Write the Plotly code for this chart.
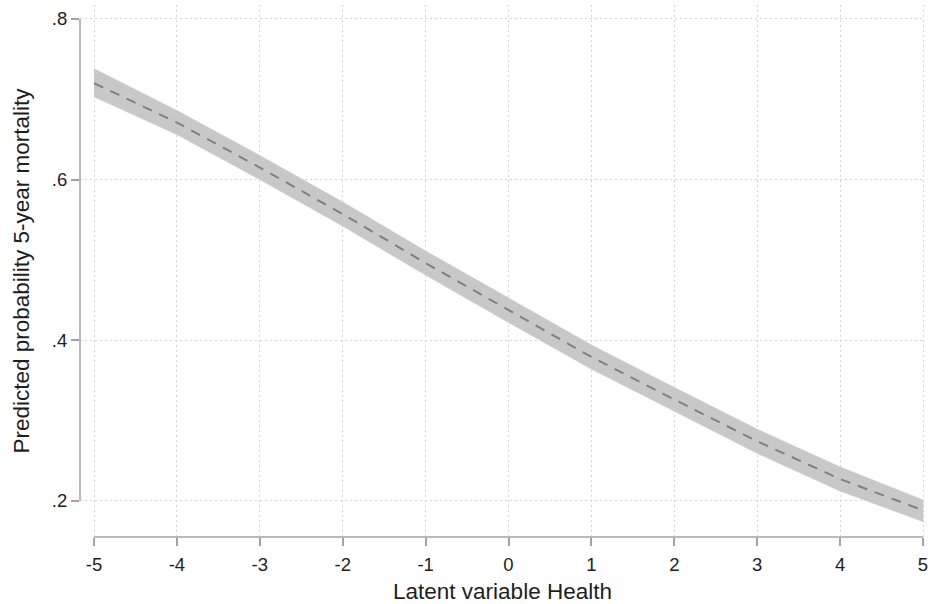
import plotly.graph_objects as go

# Data
health = [-5, -4, -3, -2, -1, 0, 1, 2, 3, 4, 5]
pred_mean = [0.720, 0.671, 0.615, 0.557, 0.496, 0.437, 0.379, 0.326, 0.274, 0.227, 0.188]
ci_upper = [0.738, 0.686, 0.630, 0.572, 0.511, 0.452, 0.394, 0.341, 0.289, 0.242, 0.201]
ci_lower = [0.703, 0.656, 0.600, 0.542, 0.481, 0.422, 0.364, 0.311, 0.259, 0.212, 0.174]

y_ticks = [0.2, 0.4, 0.6, 0.8]
y_ticklabels = [".2", ".4", ".6", ".8"]
x_ticks = [-5, -4, -3, -2, -1, 0, 1, 2, 3, 4, 5]
x_ticklabels = ["-5", "-4", "-3", "-2", "-1", "0", "1", "2", "3", "4", "5"]

FONT = "Liberation Sans, Arial, sans-serif"
AXIS_COLOR = "#a3a3a3"
GRID_COLOR = "#d4d4d4"
TEXT_COLOR = "#1e1e1e"

fig = go.Figure()

# Confidence band
fig.add_trace(go.Scatter(
    x=health + health[::-1],
    y=ci_upper + ci_lower[::-1],
    fill="toself",
    fillcolor="#c8c8c8",
    line=dict(color="#c0c0c0", width=0.5),
    mode="lines",
    hoverinfo="skip",
    showlegend=False,
))

# Predicted probability line
fig.add_trace(go.Scatter(
    x=health,
    y=pred_mean,
    mode="lines",
    line=dict(color="#808080", width=2, dash="10px,8px"),
    showlegend=False,
))

# Axis lines (Stata style: spanning min to max tick, offset)
fig.add_shape(type="line", xref="paper", yref="y", x0=0, x1=0,
              y0=min(y_ticks), y1=max(y_ticks),
              line=dict(color=AXIS_COLOR, width=1.5))
fig.add_shape(type="line", xref="x", yref="paper", x0=min(x_ticks), x1=max(x_ticks),
              y0=0, y1=0, line=dict(color=AXIS_COLOR, width=1.5))

common = dict(
    ticks="outside",
    ticklen=8,
    tickwidth=1.5,
    tickcolor=AXIS_COLOR,
    showline=False,
    zeroline=False,
    showgrid=True,
    gridcolor=GRID_COLOR,
    gridwidth=1,
    griddash="2px,3px",
    automargin=False,
    ticklabeloverflow="allow",
    tickfont=dict(family=FONT, size=18.5, color=TEXT_COLOR),
)

fig.update_xaxes(
    range=[-5.169, 5.024],
    tickvals=x_ticks,
    ticktext=x_ticklabels,
    ticklabelstandoff=3,
    title=dict(text="Latent variable Health",
               font=dict(family=FONT, size=22.5, color=TEXT_COLOR),
               standoff=12),
    **common,
)
fig.update_yaxes(
    range=[0.1548, 0.8174],
    tickvals=y_ticks,
    ticktext=y_ticklabels,
    title=dict(text="Predicted probability 5-year mortality",
               font=dict(family=FONT, size=22.5, color=TEXT_COLOR),
               standoff=15),
    **common,
)

fig.update_layout(
    width=928,
    height=604,
    margin=dict(l=80, r=3, t=5, b=67),
    paper_bgcolor="white",
    plot_bgcolor="white",
    showlegend=False,
)

fig.write_html(
    "out.html",
    config={"displayModeBar": False},
    post_script="document.body.style.margin='0';document.body.style.overflow='hidden';",
)
